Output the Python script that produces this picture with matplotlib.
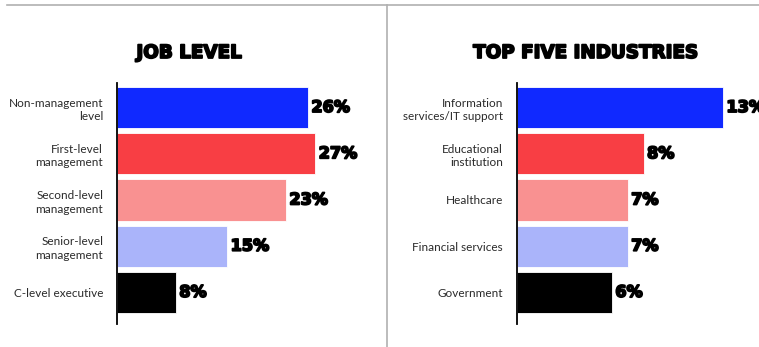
import matplotlib
matplotlib.use('Agg')
import matplotlib.pyplot as plt
import matplotlib.patheffects as pe
from matplotlib.lines import Line2D

# datos de las dos graficas
niveles = ['Non-management\nlevel', 'First-level\nmanagement', 'Second-level\nmanagement',
           'Senior-level\nmanagement', 'C-level executive']
pct_niveles = [26, 27, 23, 15, 8]

industrias = ['Information\nservices/IT support', 'Educational\ninstitution', 'Healthcare',
              'Financial services', 'Government']
pct_industrias = [13, 8, 7, 7, 6]

colores = ['#1029FF', '#F83E44', '#F99191', '#AAB4FA', '#000000']

# trazo extra para engrosar los numeros y titulos
grueso = [pe.withStroke(linewidth=1.3, foreground='black')]

fig = plt.figure(figsize=(7.59, 3.47), dpi=100)
W, H = 759.0, 347.0

# lineas grises de separacion
fig.add_artist(Line2D([7 / W, 1], [1 - 5 / H, 1 - 5 / H], color='#b0b0b0', lw=1.2))
fig.add_artist(Line2D([387 / W, 387 / W], [0, 1 - 5 / H], color='#b0b0b0', lw=1.2))


def grafica(x0, x1, xmax, etiquetas, valores, titulo, xtitulo):
    # y del eje en pixeles: 83 (arriba) a 324 (abajo)
    ax = fig.add_axes([x0 / W, (H - 324) / H, (x1 - x0) / W, 241 / H])
    pos = list(range(len(valores)))
    ax.barh(pos, valores, height=0.89, color=colores, edgecolor='white', linewidth=0.6)
    ax.set_ylim(4.683, -0.531)
    ax.set_xlim(0, xmax)
    ax.set_yticks(pos)
    ax.set_yticklabels(etiquetas, fontsize=8.5, family='Lato', color='#2a2a2a',
                       linespacing=1.3)
    ax.tick_params(axis='y', length=0, pad=10)
    ax.set_xticks([])
    for s in ['top', 'right', 'bottom']:
        ax.spines[s].set_visible(False)
    ax.spines['left'].set_linewidth(1.3)
    for p, v in zip(pos, valores):
        ax.text(v + xmax * 0.014, p, f'{v}%', va='center', ha='left', fontsize=11.6,
                family='DejaVu Sans', fontweight='bold', clip_on=False,
                path_effects=grueso)
    fig.text(xtitulo / W, 1 - 53 / H, titulo, ha='center', va='center', fontsize=13.2,
             family='DejaVu Sans', fontweight='bold', path_effects=grueso)
    return ax


grafica(117, 370, 253 / 7.34, niveles, pct_niveles, 'JOB LEVEL', 189)
grafica(516.7, 759, 242.3 / 15.87, industrias, pct_industrias, 'TOP FIVE INDUSTRIES', 586)

fig.savefig('out.png', dpi=100)
